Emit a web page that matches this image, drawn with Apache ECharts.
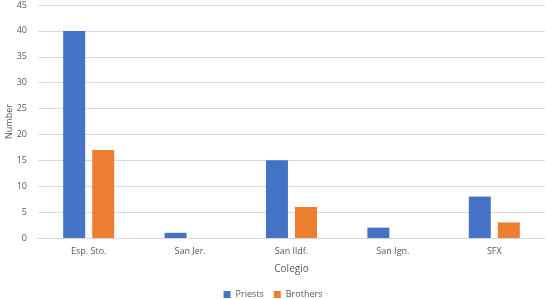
<!DOCTYPE html>
<html>
<head>
<meta charset="utf-8">
<script src="https://cdn.jsdelivr.net/npm/echarts@6/dist/echarts.min.js"></script>
<style>
  html, body { margin: 0; padding: 0; background: #fff; }
  #chart { width: 546px; height: 299px; }
</style>
</head>
<body>
<div id="chart"></div>
<script>
const categories = ['Esp. Sto.', 'San Jer.', 'San Ildf.', 'San Ign.', 'SFX'];
const priests = [40, 1, 15, 2, 8];
const brothers = [17, 0, 6, 0, 3];
const yTicks = { min: 0, max: 45, interval: 5 };

const textColor = '#595959';
const font = 'Open Sans';

const option = {
  animation: false,
  grid: {
    top: 5,
    left: 38,
    right: 1,
    bottom: 61,
    outerBoundsMode: 'none'
  },
  legend: {
    bottom: -5,
    left: 'center',
    itemWidth: 7,
    itemHeight: 7,
    itemGap: 10,
    icon: 'rect',
    textStyle: { color: textColor, fontSize: 9, fontFamily: font },
    data: ['Priests', 'Brothers']
  },
  xAxis: {
    type: 'category',
    data: categories,
    name: 'Colegio',
    nameLocation: 'middle',
    nameGap: 26,
    nameMoveOverlap: false,
    nameTextStyle: { color: textColor, fontSize: 10, fontFamily: font },
    axisTick: { show: false },
    axisLine: { lineStyle: { color: '#d9d9d9' } },
    axisLabel: { color: textColor, fontSize: 9, fontFamily: font, margin: 9 }
  },
  yAxis: {
    type: 'value',
    min: yTicks.min,
    max: yTicks.max,
    interval: yTicks.interval,
    name: 'Number',
    nameLocation: 'middle',
    nameGap: 24,
    nameMoveOverlap: false,
    nameTextStyle: { color: textColor, fontSize: 9, fontFamily: font },
    axisLine: { show: false },
    axisTick: { show: false },
    splitLine: { lineStyle: { color: '#d9d9d9' } },
    axisLabel: { color: textColor, fontSize: 9, fontFamily: font, margin: 11 }
  },
  series: [
    {
      name: 'Priests',
      type: 'bar',
      data: priests,
      barWidth: 22,
      barGap: '32%',
      itemStyle: { color: '#4472C4' }
    },
    {
      name: 'Brothers',
      type: 'bar',
      data: brothers,
      barWidth: 22,
      itemStyle: { color: '#ED7D31' }
    }
  ]
};

const myChart = echarts.init(document.getElementById('chart'));
myChart.setOption(option);
</script>
</body>
</html>
